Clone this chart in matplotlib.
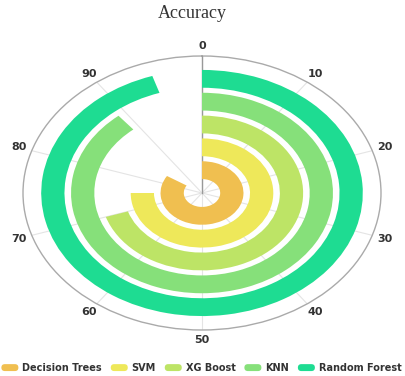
import numpy as np
import matplotlib.pyplot as plt
from matplotlib.patches import FancyBboxPatch, Patch
from matplotlib.legend_handler import HandlerPatch

models = ['Decision Trees', 'SVM', 'XG Boost', 'KNN', 'Random Forest']
accuracy = [84, 75, 70, 89, 95]
colors = ['#f0bf50', '#eee85a', '#bde466', '#86e07a', '#1edc92']
tick_vals = list(range(0, 100, 10))

full = 2 * np.pi


# rounded legend keys
class RoundHandler(HandlerPatch):
    def create_artists(self, legend, orig_handle, xdescent, ydescent,
                       width, height, fontsize, trans):
        p = FancyBboxPatch((-xdescent, -ydescent), width, height,
                           boxstyle='round,pad=0,rounding_size=2.5',
                           fc=orig_handle.get_facecolor(), ec='none',
                           transform=trans)
        return [p]


fig = plt.figure(figsize=(4.05, 3.76), dpi=100)
ax = fig.add_axes([23 / 405, 46 / 376, 358 / 405, 274 / 376], projection='polar')
ax.set_aspect('auto')
ax.set_theta_zero_location('N')
ax.set_theta_direction(-1)

for i, (m, v, c) in enumerate(zip(models, accuracy, colors)):
    ax.bar(0, 0.78, width=v / 100 * full, bottom=i + 1 - 0.39,
           align='edge', color=c, zorder=3)

ax.set_ylim(0, 6)
ax.set_yticks([])
ax.set_xticks(np.array(tick_vals) / 100 * full)
ax.set_xticklabels([])
ax.xaxis.grid(True, color='#e4e4e4', lw=0.8)
ax.spines['polar'].set_color('#aaaaaa')
ax.spines['polar'].set_linewidth(1)
ax.tick_params(axis='x', length=4, color='#aaaaaa', direction='out')
ax.plot([0, 0], [0, 6], color='#999999', lw=1, zorder=2.6)

# angle labels just outside the circle
for t in tick_vals:
    ax.text(t / 100 * full, 6.45, str(t), ha='center', va='center',
            fontweight='bold', fontsize=8, color='#333333', clip_on=False)

fig.text(192.5 / 405, 1 - 14 / 376, 'Accuracy', ha='center', va='center',
         family='Liberation Serif', fontsize=13, color='#333333')

handles = [Patch(color=c) for c in colors]
leg = fig.legend(handles, models, loc='center', bbox_to_anchor=(201.5 / 405, 8 / 376),
                 ncol=5, frameon=False, prop=dict(weight='bold', size=7),
                 handlelength=1.75, handleheight=0.72, handletextpad=0.41,
                 columnspacing=0.9, borderaxespad=0, borderpad=0,
                 handler_map={Patch: RoundHandler()})
for t in leg.get_texts():
    t.set_color('#333333')

fig.savefig('out.png', dpi=100)
